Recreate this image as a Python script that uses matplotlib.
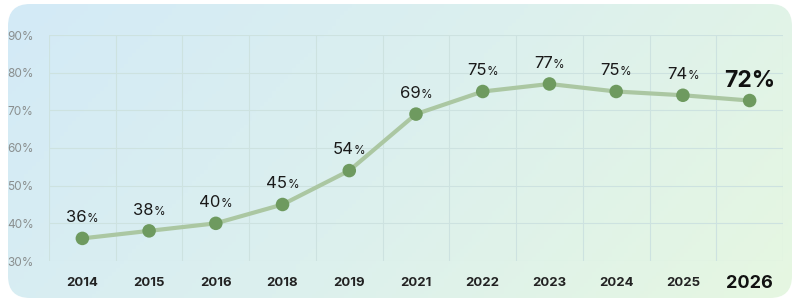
import numpy as np
import matplotlib
matplotlib.use('Agg')
from matplotlib import pyplot as plt
from matplotlib.patches import FancyBboxPatch
from matplotlib.offsetbox import TextArea, HPacker, AnnotationBbox
from matplotlib.colors import LinearSegmentedColormap

plt.rcParams['font.family'] = ['Inter', 'DejaVu Sans']

# Dữ liệu
years = ['2014', '2015', '2016', '2018', '2019', '2021', '2022', '2023', '2024', '2025', '2026']
values = [36, 38, 40, 45, 54, 69, 75, 77, 75, 74, 72.6]
labels = ['36', '38', '40', '45', '54', '69', '75', '77', '75', '74', '72']
yticks = [30, 40, 50, 60, 70, 80, 90]

fig = plt.figure(figsize=(8, 3.02), dpi=100)

# Nền gradient bo góc
bg = fig.add_axes([0, 0, 1, 1])
bg.set_xlim(0, 800)
bg.set_ylim(302, 0)
bg.axis('off')
cmap = LinearSegmentedColormap.from_list('bg', ['#d3eaf7', '#dcf0ee', '#e6f7e1'])
xx, yy = np.meshgrid(np.linspace(0, 1, 200), np.linspace(0, 1, 80))
grad = (xx * 0.75 + yy * 0.25)
im = bg.imshow(grad, cmap=cmap, extent=[0, 800, 302, 0], aspect='auto', zorder=0)
box = FancyBboxPatch((8, 4), 784, 294, boxstyle='round,pad=0,rounding_size=22',
                     transform=bg.transData, facecolor='none', edgecolor='none')
bg.add_patch(box)
im.set_clip_path(box)

ax = fig.add_axes([49 / 800, 1 - 261 / 302, 734 / 800, 226 / 302])
ax.patch.set_alpha(0)
x = np.arange(len(years))
ax.plot(x, values, color='#abc7a2', lw=3, zorder=2, solid_capstyle='round')
ax.scatter(x, values, s=95, color='#6e9a5f', zorder=3, edgecolors='none')

ax.set_xlim(-0.5, len(years) - 0.5)
ax.set_ylim(30, 90)
ax.set_yticks(yticks)
ax.set_yticklabels([f'{v}%' for v in yticks], color='#8a8f8f', fontsize=8.5)
ax.set_xticks(x)
ax.set_xticklabels(years, fontsize=9.5, fontweight='bold', color='#222222')
ax.get_xticklabels()[-1].set_fontsize(13)
ax.get_xticklabels()[-1].set_color('#111111')
ax.tick_params(axis='both', which='both', length=0)
ax.tick_params(axis='y', pad=11)
for lbl in ax.get_xticklabels():
    lbl.set_verticalalignment('center_baseline')
ax.tick_params(axis='x', pad=15)
ax.grid(False)
for v in yticks:
    ax.axhline(v, color='#cde2e0', lw=0.8, zorder=1)
for v in np.arange(-0.5, len(years)):
    ax.axvline(v, color='#cde2e0', lw=0.8, zorder=1)
for s in ax.spines.values():
    s.set_visible(False)

# Nhãn giá trị
for i, (v, lab) in enumerate(zip(values, labels)):
    if i == len(values) - 1:
        parts = [TextArea(lab + '%', textprops=dict(fontsize=16.5, fontweight='bold', color='#111111'))]
        off = 14
    else:
        parts = [TextArea(lab, textprops=dict(fontsize=12, color='#1a1a1a')),
                 TextArea('%', textprops=dict(fontsize=8.5, color='#1a1a1a'))]
        off = 15
    pack = HPacker(children=parts, align='baseline', pad=0, sep=0)
    ab = AnnotationBbox(pack, (i, v), xybox=(0, off), boxcoords='offset points',
                        frameon=False, box_alignment=(0.5, 0.5))
    ax.add_artist(ab)

fig.savefig('out.png', dpi=100)
